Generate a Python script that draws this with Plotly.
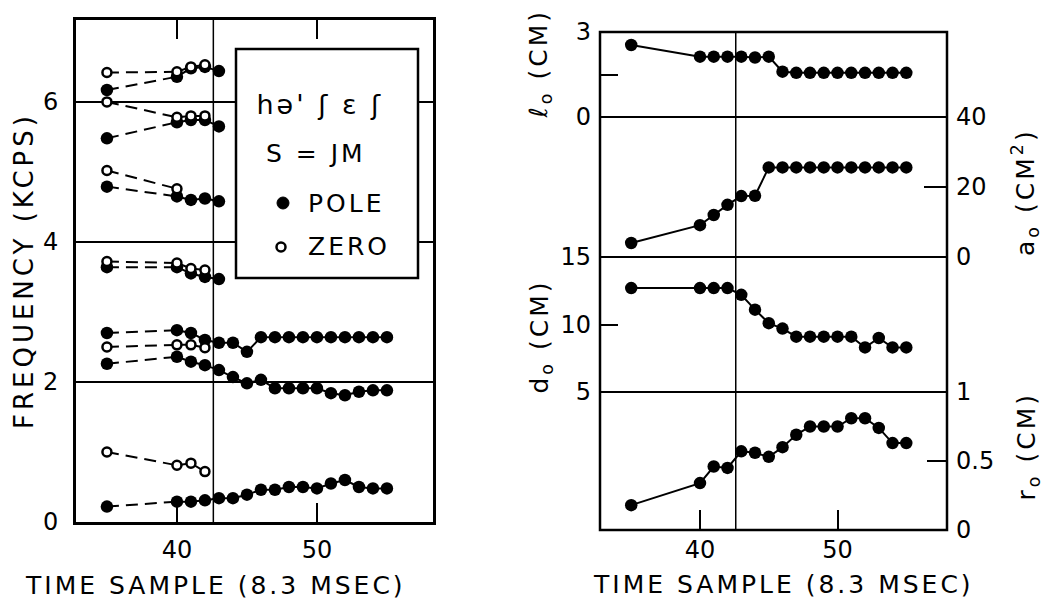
import plotly.graph_objects as go

W, H = 1060, 604
FONT = "DejaVu Sans"

# ---------------- data ----------------
samples = [35, 40, 41, 42, 43, 44, 45, 46, 47, 48, 49, 50, 51, 52, 53, 54, 55]
early_samples = [35, 40, 41, 42, 43]
zero_samples = [35, 40, 41, 42]
zero4_samples = [35, 40]

# left panel: pole frequencies (kcps)
pole1 = [0.22, 0.29, 0.29, 0.31, 0.34, 0.34, 0.39, 0.46, 0.46, 0.50, 0.50, 0.48, 0.55, 0.60, 0.50, 0.48, 0.48]
pole2 = [2.26, 2.36, 2.29, 2.24, 2.17, 2.07, 1.98, 2.03, 1.91, 1.91, 1.91, 1.91, 1.84, 1.81, 1.86, 1.88, 1.88]
pole3 = [2.70, 2.74, 2.70, 2.60, 2.56, 2.56, 2.43, 2.64, 2.64, 2.64, 2.64, 2.64, 2.64, 2.64, 2.64, 2.64, 2.64]
pole4 = [3.64, 3.64, 3.55, 3.50, 3.47]
pole5 = [4.79, 4.65, 4.60, 4.62, 4.58]
pole6 = [5.48, 5.71, 5.74, 5.74, 5.65]
pole7 = [6.17, 6.36, 6.48, 6.50, 6.44]

# left panel: zero frequencies (kcps)
zero1 = [1.00, 0.81, 0.84, 0.72]
zero2 = [2.50, 2.53, 2.53, 2.49]
zero3 = [3.72, 3.70, 3.62, 3.60]
zero4 = [5.02, 4.76]
zero5 = [6.00, 5.78, 5.80, 5.80]
zero6 = [6.42, 6.43, 6.50, 6.53]

# right panel: vocal tract parameters
l_o = [2.54, 2.13, 2.13, 2.13, 2.13, 2.10, 2.13, 1.60, 1.56, 1.56, 1.56, 1.56, 1.56, 1.56, 1.56, 1.56, 1.56]
a_o = [4.0, 9.1, 12.0, 14.9, 17.4, 17.5, 25.6, 25.6, 25.6, 25.6, 25.6, 25.6, 25.6, 25.6, 25.6, 25.6, 25.6]
d_o = [12.7, 12.7, 12.7, 12.7, 12.2, 11.1, 10.1, 9.7, 9.1, 9.1, 9.1, 9.1, 9.1, 8.3, 9.0, 8.3, 8.3]
r_o = [0.18, 0.34, 0.46, 0.45, 0.57, 0.56, 0.53, 0.60, 0.69, 0.75, 0.75, 0.75, 0.81, 0.81, 0.74, 0.63, 0.63]

x_ticks = [40, 50]
freq_ticks = [0, 2, 4, 6]
boundary_sample = 42.6

# ---------------- geometry helpers ----------------
def px(p):
    return p / W

def py(p):
    return 1 - p / H

LEFT_X = [px(76), px(433)]
LEFT_Y = [py(522), py(20)]
RIGHT_X = [px(600), px(947)]
R_TOP, R_B1, R_B2, R_B3, R_BOT = 32, 117, 257, 392, 530

fig = go.Figure()

pole_tracks = [(early_samples if len(p) == 5 else samples, p)
               for p in [pole1, pole2, pole3, pole4, pole5, pole6, pole7]]
zero_tracks = [(zero_samples, zero1), (zero_samples, zero2), (zero_samples, zero3),
               (zero4_samples, zero4), (zero_samples, zero5), (zero_samples, zero6)]

LW = 2
DASH = "12px,7px"
for xs, ys in pole_tracks + zero_tracks:
    fig.add_trace(go.Scatter(x=xs[:2], y=ys[:2], mode="lines",
                             line=dict(color="black", width=LW, dash=DASH),
                             xaxis="x", yaxis="y", showlegend=False, hoverinfo="skip"))
    if len(xs) > 2:
        fig.add_trace(go.Scatter(x=xs[1:], y=ys[1:], mode="lines",
                                 line=dict(color="black", width=LW),
                                 xaxis="x", yaxis="y", showlegend=False, hoverinfo="skip"))
for xs, ys in pole_tracks:
    fig.add_trace(go.Scatter(x=xs, y=ys, mode="markers",
                             marker=dict(color="black", size=12.5),
                             xaxis="x", yaxis="y", showlegend=False, name="POLE"))
for xs, ys in zero_tracks:
    fig.add_trace(go.Scatter(x=xs, y=ys, mode="markers",
                             marker=dict(color="white", size=9, line=dict(color="black", width=2.5)),
                             xaxis="x", yaxis="y", showlegend=False, name="ZERO"))

# right panel traces
for vals, yax in [(l_o, "y2"), (a_o, "y3"), (d_o, "y4"), (r_o, "y5")]:
    fig.add_trace(go.Scatter(x=samples, y=vals, mode="lines+markers",
                             line=dict(color="black", width=LW),
                             marker=dict(color="black", size=12.5),
                             xaxis="x2", yaxis=yax, showlegend=False))

tickfont = dict(family=FONT, size=24, color="black")
common_y = dict(showgrid=False, zeroline=False, tickfont=tickfont, tickcolor="black",
                tickwidth=2, ticks="inside", anchor="x2", showline=False, automargin=False)

fig.update_layout(
    width=W, height=H,
    margin=dict(l=0, r=0, t=0, b=0, autoexpand=False),
    paper_bgcolor="white", plot_bgcolor="white",
    font=dict(family=FONT, color="black"),
    xaxis=dict(domain=LEFT_X, range=[32.79, 58.29], tickvals=x_ticks, ticks="inside",
               ticklen=19, tickwidth=2, tickcolor="black", showline=True, linewidth=3,
               linecolor="black", mirror="ticks", showgrid=False, zeroline=False,
               tickfont=tickfont, anchor="y", automargin=False, ticklabelstandoff=4),
    yaxis=dict(domain=LEFT_Y, range=[0, 7.17], tickvals=freq_ticks, showgrid=True,
               gridcolor="black", gridwidth=1.5, showline=True, linewidth=3,
               linecolor="black", mirror=True, ticks="", zeroline=False,
               tickfont=tickfont, ticklabelstandoff=10, anchor="x", automargin=False),
    xaxis2=dict(domain=RIGHT_X, range=[32.73, 57.96], anchor="y5", tickvals=x_ticks,
                ticks="inside", ticklen=20, tickwidth=2, tickcolor="black",
                showline=False, showgrid=False, zeroline=False, tickfont=tickfont,
                automargin=False, ticklabelstandoff=3),
    yaxis2=dict(domain=[py(R_B1), py(R_TOP)], range=[0, 3], side="left",
                tickvals=[0, 1.5, 3], ticktext=["0", "", "3"], ticklen=18,
                ticklabelstandoff=8, **common_y),
    yaxis3=dict(domain=[py(R_B2), py(R_B1)], range=[0, 40], side="right",
                tickvals=[0, 20, 40], ticktext=["0", "20", "40"], ticklen=23,
                ticklabelstandoff=8, **common_y),
    yaxis4=dict(domain=[py(R_B3), py(R_B2)], range=[5, 15], side="left",
                tickvals=[5, 10, 15], ticktext=["5", "10", "15"], ticklen=18,
                ticklabelstandoff=8, **common_y),
    yaxis5=dict(domain=[py(R_BOT), py(R_B3)], range=[0, 1], side="right",
                tickvals=[0, 0.5, 1], ticktext=["0", "0.5", "1"], ticklen=20,
                ticklabelstandoff=8, **common_y),
)

shapes = []
# vertical boundary lines
shapes.append(dict(type="line", xref="x", yref="y domain", x0=boundary_sample, x1=boundary_sample,
                   y0=0, y1=1, line=dict(color="black", width=1.5), layer="below"))
shapes.append(dict(type="line", xref="x2", yref="paper", x0=boundary_sample, x1=boundary_sample,
                   y0=py(R_BOT), y1=py(R_TOP), line=dict(color="black", width=1.5)))
# right frame and separators
shapes.append(dict(type="rect", xref="paper", yref="paper", x0=RIGHT_X[0], x1=RIGHT_X[1],
                   y0=py(R_BOT), y1=py(R_TOP), line=dict(color="black", width=2.5)))
for b in [R_B1, R_B2, R_B3]:
    shapes.append(dict(type="line", xref="paper", yref="paper", x0=RIGHT_X[0], x1=RIGHT_X[1],
                       y0=py(b), y1=py(b), line=dict(color="black", width=1.8)))
# legend box
shapes.append(dict(type="rect", xref="paper", yref="paper", x0=px(236), x1=px(418),
                   y0=py(278), y1=py(49), fillcolor="white", line=dict(color="black", width=2.5),
                   layer="above"))
# legend glyphs
shapes.append(dict(type="circle", xref="paper", yref="paper", x0=px(277), x1=px(289),
                   y0=py(209), y1=py(197), fillcolor="black", line=dict(color="black", width=1),
                   layer="above"))
shapes.append(dict(type="circle", xref="paper", yref="paper", x0=px(276.5), x1=px(285.5),
                   y0=py(251.5), y1=py(242.5), fillcolor="white", line=dict(color="black", width=2.5),
                   layer="above"))
fig.update_layout(shapes=shapes)

ann = []
def text(t, x, y, size, angle=0, xanchor="center"):
    ann.append(dict(text=t, x=px(x), y=py(y), xref="paper", yref="paper", showarrow=False,
                    textangle=angle, xanchor=xanchor, yanchor="middle",
                    font=dict(family=FONT, size=size, color="black")))

text("hə' ʃ ε ʃ", 320, 105, 27)
text("S = JM", 316, 153, 25)
text("POLE", 312, 203, 25, xanchor="left")
text("ZERO", 312, 247, 25, xanchor="left")
text("FREQUENCY (KCPS)", 24, 271, 26, angle=-90)
text("TIME SAMPLE (8.3 MSEC)", 215, 585, 25)
text("TIME SAMPLE (8.3 MSEC)", 783, 584, 25)
text("ℓ<sub>o</sub> (CM)", 540, 64, 25, angle=-90)
text("a<sub>o</sub> (CM<sup>2</sup>)", 1025, 192, 25, angle=-90)
text("d<sub>o</sub> (CM)", 541, 337, 25, angle=-90)
text("r<sub>o</sub> (CM)", 1028, 447, 25, angle=-90)
fig.update_layout(annotations=ann)

# page without default body margin; slightly wider lettering like the original
post = """
document.body.style.margin = '0';
document.body.style.overflow = 'hidden';
document.querySelectorAll('.annotation-text').forEach(function(t){
  t.style.letterSpacing = (t.textContent.indexOf('FREQ') === 0) ? '4px' : '3px';
});
"""
fig.write_html("out.html", post_script=post, config={"displayModeBar": False})
